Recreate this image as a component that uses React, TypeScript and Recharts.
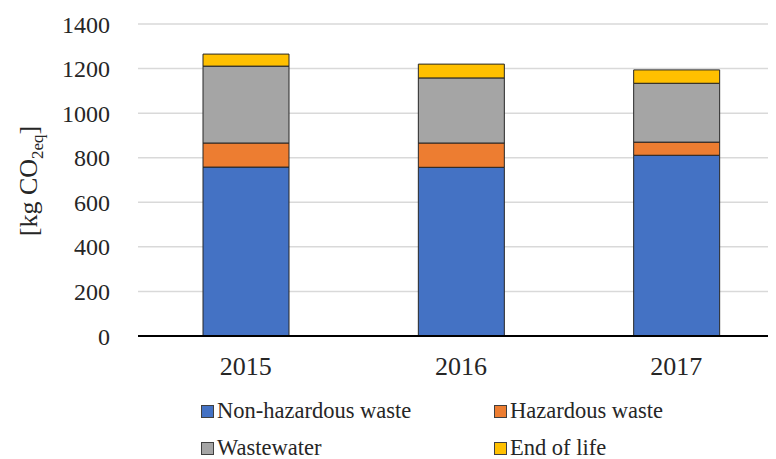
import { Bar, BarChart, CartesianGrid, Legend, XAxis, YAxis } from 'recharts';

const years = ['2015', '2016', '2017'];
const nonHazardous = [758, 757, 811];
const hazardous = [108, 109, 59];
const wastewater = [345, 292, 264];
const endOfLife = [54, 62, 60];
const yTicks = [0, 200, 400, 600, 800, 1000, 1200, 1400];

const series = [
  { key: 'nonHazardous', name: 'Non-hazardous waste', color: '#4472C4' },
  { key: 'hazardous', name: 'Hazardous waste', color: '#ED7D31' },
  { key: 'wastewater', name: 'Wastewater', color: '#A5A5A5' },
  { key: 'endOfLife', name: 'End of life', color: '#FFC000' },
];

const data = years.map((year, i) => ({
  year,
  nonHazardous: nonHazardous[i],
  hazardous: hazardous[i],
  wastewater: wastewater[i],
  endOfLife: endOfLife[i],
}));

const font = '"Liberation Serif", serif';

function LegendBox() {
  return (
    <div style={{ position: 'relative', width: 776, height: 86, fontFamily: font }}>
      {series.map((s, i) => (
        <div
          key={s.key}
          style={{
            position: 'absolute',
            left: i % 2 === 0 ? 201 : 494,
            top: i < 2 ? 28 : 65,
            display: 'flex',
            alignItems: 'center',
            fontSize: 22.5,
            color: '#262626',
            lineHeight: '20px',
            height: 20,
            whiteSpace: 'nowrap',
          }}
        >
          <span
            style={{
              display: 'inline-block',
              width: 11,
              height: 11,
              background: s.color,
              border: '1px solid #404040',
              marginRight: 3,
            }}
          />
          {s.name}
        </div>
      ))}
    </div>
  );
}

function YLabel() {
  return (
    <text
      x={28}
      y={181}
      transform='rotate(-90 28 181)'
      textAnchor='middle'
      dominantBaseline='central'
      style={{ fontFamily: font }}
      fontSize={26}
      fill='#262626'
    >
      [kg CO
      <tspan baselineShift='sub' fontSize={17}>
        2eq
      </tspan>
      <tspan>]</tspan>
    </text>
  );
}

const yTickStyle = { fill: '#262626', fontSize: 24, style: { fontFamily: font } };
const xTickStyle = { fill: '#262626', fontSize: 26, style: { fontFamily: font } };

export default function App() {
  return (
    <div
      style={{
        margin: '-8px -8px 0 -8px',
        width: 776,
        height: 459,
        overflow: 'hidden',
        background: '#fff',
        fontFamily: font,
      }}
    >
      <BarChart
        width={790}
        height={459}
        data={data}
        margin={{ top: 24, right: 6, bottom: 0, left: 0 }}
        barSize={86}
        style={{ fontFamily: font }}
      >
        <CartesianGrid vertical={false} stroke='#D9D9D9' strokeWidth={1.5} />
        <XAxis
          dataKey='year'
          tickLine={false}
          axisLine={{ stroke: '#000', strokeWidth: 2 }}
          tick={xTickStyle}
          tickMargin={15}
          height={37}
        />
        <YAxis
          width={138}
          domain={[0, 1400]}
          ticks={yTicks}
          interval={0}
          tickLine={false}
          axisLine={false}
          tick={yTickStyle}
          tickMargin={22}
          label={<YLabel />}
        />
        <Legend verticalAlign='bottom' height={86} content={<LegendBox />} />
        {series.map((s) => (
          <Bar
            key={s.key}
            dataKey={s.key}
            name={s.name}
            stackId='a'
            fill={s.color}
            stroke='#262626'
            strokeWidth={1}
            isAnimationActive={false}
          />
        ))}
      </BarChart>
    </div>
  );
}
